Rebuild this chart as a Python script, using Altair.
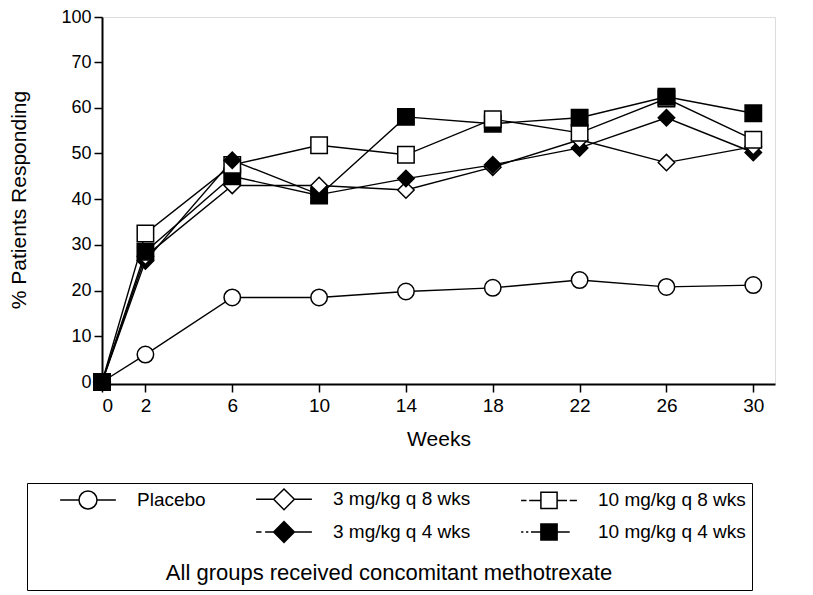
import altair as alt
import pandas as pd

weeks = [0, 2, 6, 10, 14, 18, 22, 26, 30]
series_names = ["Placebo", "3 mg/kg q 8 wks", "10 mg/kg q 8 wks",
                "3 mg/kg q 4 wks", "10 mg/kg q 4 wks"]
placebo = [0, 6.0, 18.5, 18.5, 19.8, 20.6, 22.3, 20.8, 21.2]
mg3_q8 = [0, 27.5, 43.0, 43.0, 42.0, 47.0, 53.0, 48.0, 51.5]
mg10_q8 = [0, 32.5, 47.5, 51.8, 49.7, 57.5, 54.5, 62.0, 53.0]
mg3_q4 = [0, 26.5, 48.5, 41.0, 44.5, 47.5, 51.2, 57.8, 50.2]
mg10_q4 = [0, 28.5, 45.0, 40.8, 58.0, 56.5, 57.8, 62.4, 58.8]
y_ticks = [0, 10, 20, 30, 40, 50, 60, 70, 100]
footnote = "All groups received concomitant methotrexate"

series_values = [placebo, mg3_q8, mg10_q8, mg3_q4, mg10_q4]
rows = []
for name, vals in zip(series_names, series_values):
    for w, v in zip(weeks, vals):
        rows.append({"week": w, "pct": v, "series": name})
df = pd.DataFrame(rows)

FONT = "Liberation Sans"

point_shapes = ["circle", "diamond", "square", "diamond", "square"]
point_fills = ["white", "white", "white", "black", "black"]

# legend symbols with line stubs, like "-O-"
circ = "M1,0A1,1,0,1,1,-1,0A1,1,0,1,1,1,0Z"
diam = "M0,-1.15L1.15,0L0,1.15L-1.15,0Z"
sqr = "M-0.9,-0.9L0.9,-0.9L0.9,0.9L-0.9,0.9Z"
leg_order = [series_names[0], series_names[1], series_names[2], " ",
             series_names[3], series_names[4]]
leg_shapes = [
    "M-3.1,0L-1,0M1,0L3.1,0" + circ,
    "M-3.1,0L-1.15,0M1.15,0L3.1,0" + diam,
    "M-3.1,0L-2.5,0M-2.2,0L-0.9,0M0.9,0L2.0,0M2.3,0L3.1,0" + sqr,
    "M0,0",
    "M-3.1,0L-2.5,0M-2.1,0L-1.15,0M1.15,0L3.1,0" + diam,
    "M-3.1,0L-2.85,0M-2.55,0L-2.3,0M-2.0,0L-0.9,0M0.9,0L2.3,0" + sqr,
]
leg_fills = ["white", "white", "white", "white", "black", "black"]
leg_strokes = ["black", "black", "black", "white", "black", "black"]

x_scale = alt.Scale(domain=[0, 31], nice=False, zero=False)
y_scale = alt.Scale(domain=[0, 70, 100], range=[365, 45, 0], nice=False, zero=False)

x_axis = alt.Axis(values=weeks, title="Weeks", grid=False, labelFont=FONT,
                  labelFontSize=19, titleFont=FONT, titleFontSize=21,
                  titleFontWeight="normal", tickSize=8, tickWidth=1.5,
                  domainWidth=2, domainColor="black", tickColor="black",
                  labelColor="black", titleColor="black", labelPadding=4,
                  titlePadding=13)
y_axis = alt.Axis(values=y_ticks, title="% Patients Responding", grid=False,
                  labelFont=FONT, labelFontSize=18, titleFont=FONT,
                  titleFontSize=21, titleFontWeight="normal", tickSize=8,
                  tickWidth=1.5, domainWidth=2, domainColor="black",
                  tickColor="black", labelColor="black", titleColor="black",
                  labelPadding=3, titlePadding=31)

base = alt.Chart(df)

lines = base.mark_line(color="black", strokeWidth=1.4).encode(
    x=alt.X("week:Q", scale=x_scale, axis=x_axis),
    y=alt.Y("pct:Q", scale=y_scale, axis=y_axis),
    detail="series:N",
)

points = base.mark_point(stroke="black", strokeWidth=1.5, size=270, opacity=1).encode(
    x=alt.X("week:Q", scale=x_scale),
    y=alt.Y("pct:Q", scale=y_scale),
    shape=alt.Shape("series:N", scale=alt.Scale(domain=series_names, range=point_shapes), legend=None),
    fill=alt.Fill("series:N", scale=alt.Scale(domain=series_names, range=point_fills), legend=None),
    order=alt.Order("pct:Q"),
)

leg = alt.Legend(
    title=footnote, orient="none", legendX=-75, legendY=466,
    direction="horizontal", columns=3, titleOrient="bottom",
    titleAnchor="middle", titleFont=FONT, titleFontSize=22,
    titleFontWeight="normal", titleColor="black", titlePadding=18,
    titleLimit=900, labelFont=FONT, labelFontSize=19, labelColor="black",
    labelLimit=400, labelOffset=39, symbolOffset=45, symbolSize=324,
    symbolStrokeWidth=1.5, strokeColor="black",
    labelExpr="indexof(datum.label, '10 mg') == 0 ? datum.label + '        ' : datum.label",
    padding=6, rowPadding=5, columnPadding=23,
)

legend_layer = alt.Chart(df).transform_filter("false").mark_point(
    strokeWidth=1.5, size=324, opacity=1
).encode(
    x=alt.X("week:Q", scale=x_scale),
    y=alt.Y("pct:Q", scale=y_scale),
    shape=alt.Shape("series:N", scale=alt.Scale(domain=leg_order, range=leg_shapes), legend=leg),
    fill=alt.Fill("series:N", scale=alt.Scale(domain=leg_order, range=leg_fills), legend=leg),
    stroke=alt.Stroke("series:N", scale=alt.Scale(domain=leg_order, range=leg_strokes), legend=leg),
)

chart = alt.layer(lines, points, legend_layer).resolve_scale(
    shape="independent", fill="independent", stroke="independent"
).properties(
    width=673, height=367,
    autosize=alt.AutoSizeParams(type="none"),
    padding={"left": 94, "top": 9, "right": 30, "bottom": 211},
).configure_view(stroke="black", strokeWidth=1.5).configure(background="white")

chart.save("out.html", embed_options={"renderer": "svg", "actions": False})
